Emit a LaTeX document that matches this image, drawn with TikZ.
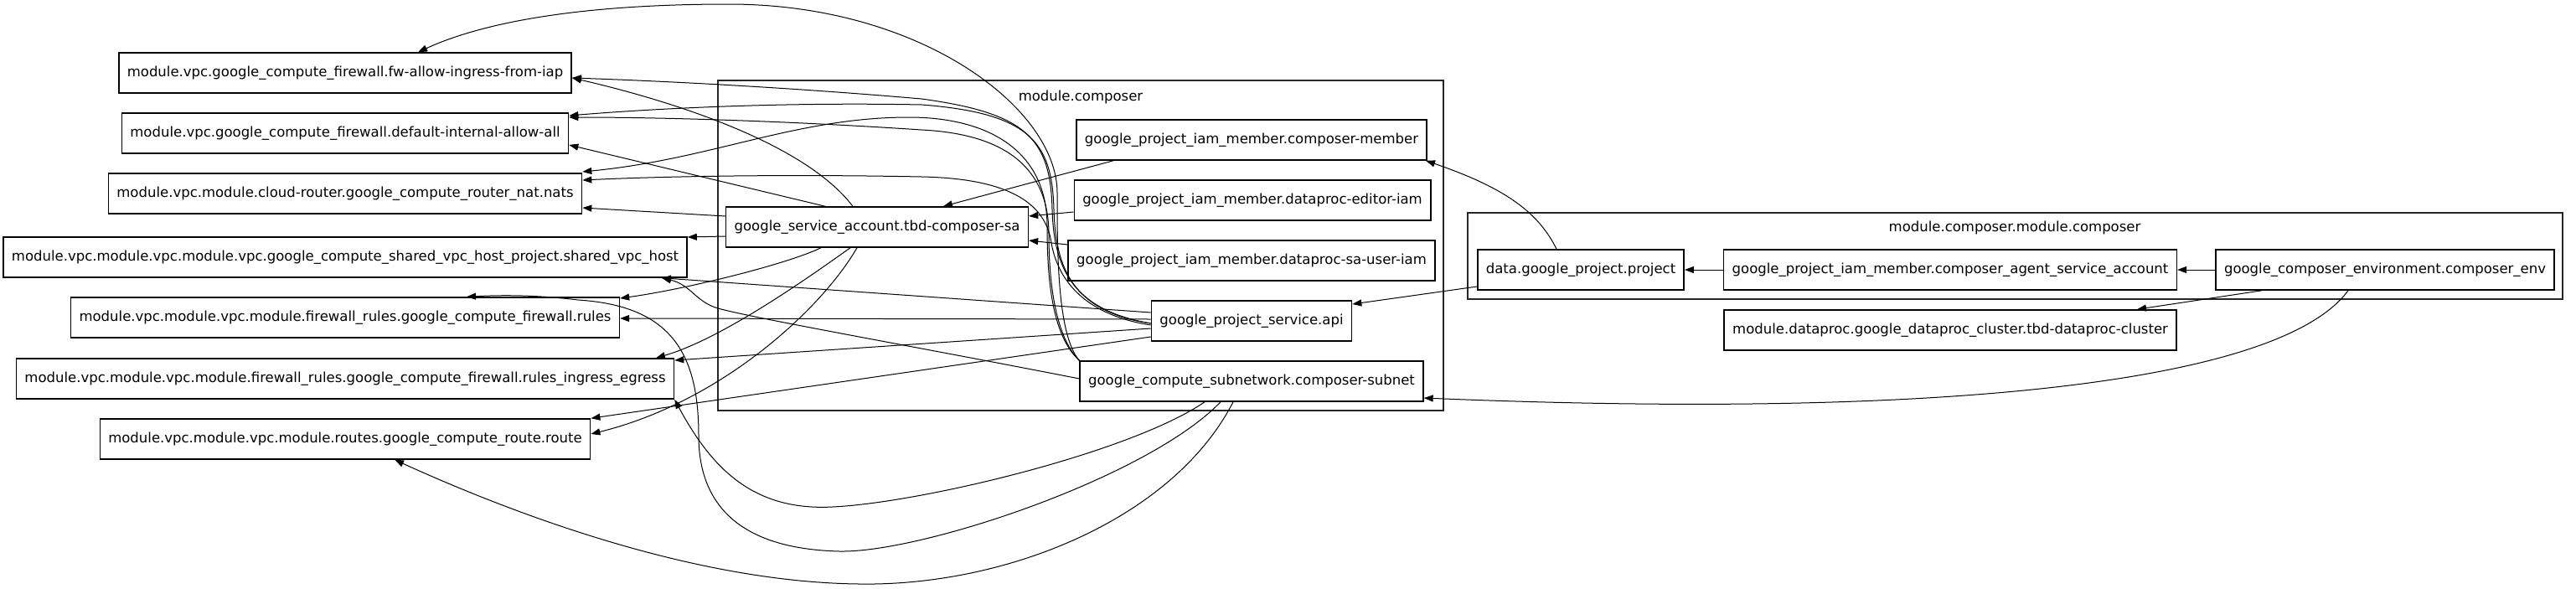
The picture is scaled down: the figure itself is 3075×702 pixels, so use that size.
\documentclass[tikz,border=0pt]{standalone}
\usepackage{fontspec}
\setmainfont{DejaVu Sans}
\usetikzlibrary{arrows.meta}
\tikzstyle{res}=[rectangle,draw=black,line width=0.75pt,inner xsep=5pt,
  inner ysep=0pt,minimum height=24pt]
\tikzstyle{cluster}=[draw=black!85,line width=0.75pt]
\tikzstyle{dep}=[-{Triangle[length=5.5pt,width=4pt]},line width=0.5pt]
\tikzstyle{none}=[]
\begin{document}
\begin{tikzpicture}[x=0.5pt, y=0.5pt, every node/.style={font=\fontsize{8.25}{10}\selectfont}]
    \useasboundingbox (0,0) rectangle (3075,-702);
    \draw [style=cluster] (857,-96) rectangle (1723,-490);
    \draw [style=cluster] (1752,-254) rectangle (3059,-357);
    \node [style=none] (17) at (1290,-116) {module.composer};
    \node [style=none] (18) at (2405,-272) {module.composer.module.composer};
    \node [style=res] (0) at (412,-87) {module.vpc.google\_compute\_firewall.fw-allow-ingress-from-iap};
    \node [style=res] (1) at (412,-159) {module.vpc.google\_compute\_firewall.default-internal-allow-all};
    \node [style=res] (2) at (412,-231) {module.vpc.module.cloud-router.google\_compute\_router\_nat.nats};
    \node [style=res] (3) at (412,-307) {module.vpc.module.vpc.module.vpc.google\_compute\_shared\_vpc\_host\_project.shared\_vpc\_host};
    \node [style=res] (4) at (412,-379) {module.vpc.module.vpc.module.firewall\_rules.google\_compute\_firewall.rules};
    \node [style=res] (5) at (412,-452) {module.vpc.module.vpc.module.firewall\_rules.google\_compute\_firewall.rules\_ingress\_egress};
    \node [style=res] (6) at (412,-524) {module.vpc.module.vpc.module.routes.google\_compute\_route.route};
    \node [style=res] (7) at (1047,-271) {google\_service\_account.tbd-composer-sa};
    \node [style=res] (8) at (1494,-167) {google\_project\_iam\_member.composer-member};
    \node [style=res] (9) at (1495,-239) {google\_project\_iam\_member.dataproc-editor-iam};
    \node [style=res] (10) at (1494,-311) {google\_project\_iam\_member.dataproc-sa-user-iam};
    \node [style=res] (11) at (1494,-383) {google\_project\_service.api};
    \node [style=res] (12) at (1494,-455) {google\_compute\_subnetwork.composer-subnet};
    \node [style=res] (13) at (1887,-322) {data.google\_project.project};
    \node [style=res] (14) at (2328,-322) {google\_project\_iam\_member.composer\_agent\_service\_account};
    \node [style=res] (15) at (2847,-322) {google\_composer\_environment.composer\_env};
    \node [style=res] (16) at (2328,-394) {module.dataproc.google\_dataproc\_cluster.tbd-dataproc-cluster};
    \draw [style=dep] (15.west) to (14.east);
    \draw [style=dep] (14.west) to (13.east);
    \draw [style=dep] (15.south -| 2700,0) to (16.north -| 2551,0);
    \draw [style=dep] (15.south -| 2803,0) .. controls (2720,-460) and (2300,-500) .. (12.east |- 0,-475);
    \draw [style=dep] (13.north -| 1858,0) .. controls (1835,-250) and (1790,-222) .. (8.south -| 1702,0);
    \draw [style=dep] (13.west |- 0,-342) to (11.east |- 0,-363);
    \draw [style=dep] (8.south -| 1329,0) to (7.north -| 1126,0);
    \draw [style=dep] (9.west |- 0,-253) to (7.east |- 0,-258);
    \draw [style=dep] (10.west |- 0,-292) to (7.east |- 0,-287);
    \draw [style=dep] (7.north -| 1018,0) .. controls (960,-170) and (800,-120) .. (0.east |- 0,-93);
    \draw [style=dep] (7.north -| 985,0) to (1.east |- 0,-173);
    \draw [style=dep] (7.west |- 0,-258) to (2.east |- 0,-248);
    \draw [style=dep] (7.west |- 0,-282) to (3.east |- 0,-283);
    \draw [style=dep] (7.south -| 980,0) .. controls (940,-315) and (820,-345) .. (4.east |- 0,-356);
    \draw [style=dep] (7.south -| 1015,0) .. controls (960,-335) and (860,-405) .. (5.north -| 783,0);
    \draw [style=dep] (7.south -| 1023,0) .. controls (980,-370) and (860,-480) .. (6.east |- 0,-518);
    \draw [style=dep] (11.west |- 0,-386) .. controls (1280,-370) and (1258,-320) .. (1256,-250) .. controls (1254,-165) and (1225,-135) .. (1100,-118) .. controls (950,-105) and (800,-97) .. (0.east |- 0,-93);
    \draw [style=dep] (11.west |- 0,-386) .. controls (1280,-372) and (1260,-320) .. (1258,-250) .. controls (1256,-170) and (1230,-135) .. (1100,-125) .. controls (950,-122) and (800,-128) .. (1.east |- 0,-138);
    \draw [style=dep] (11.west |- 0,-388) .. controls (1290,-375) and (1262,-330) .. (1255,-290) .. controls (1248,-240) and (1200,-213) .. (1100,-211) .. controls (950,-208) and (800,-210) .. (2.east |- 0,-215);
    \draw [style=dep] (11.west |- 0,-373) to (3.south -| 790,0);
    \draw [style=dep] (11.west |- 0,-381) to (4.east |- 0,-380);
    \draw [style=dep] (11.west |- 0,-392) to (5.east |- 0,-430);
    \draw [style=dep] (11.west |- 0,-402) to (6.north east);
    \draw [style=dep] (12.north west) .. controls (1262,-400) and (1262,-300) .. (1262,-230) .. controls (1262,-130) and (1100,-5) .. (870,-5) .. controls (700,-5) and (580,-25) .. (0.north -| 499,0);
    \draw [style=dep] (12.north west) .. controls (1255,-400) and (1250,-330) .. (1250,-270) .. controls (1250,-180) and (1180,-140) .. (1085,-140) .. controls (950,-140) and (850,-190) .. (2.east |- 0,-205);
    \draw [style=dep] (12.north west) .. controls (1258,-400) and (1252,-330) .. (1252,-280) .. controls (1252,-200) and (1200,-160) .. (1100,-155) .. controls (950,-145) and (800,-140) .. (1.east |- 0,-140);
    \draw [style=dep] (12.west |- 0,-452) .. controls (1100,-415) and (900,-380) .. (857,-368) .. controls (830,-360) and (825,-340) .. (3.south -| 790,0);
    \draw [style=dep] (12.south -| 1438,0) .. controls (1350,-540) and (1100,-600) .. (994,-605) .. controls (900,-610) and (850,-560) .. (5.south east);
    \draw [style=dep] (12.south -| 1457,0) .. controls (1370,-570) and (1100,-660) .. (1002,-658) .. controls (880,-655) and (834,-600) .. (834,-520) .. controls (834,-420) and (800,-365) .. (690,-358) .. controls (640,-352) and (600,-352) .. (4.north -| 557,0);
    \draw [style=dep] (12.south -| 1472,0) .. controls (1400,-620) and (1200,-700) .. (1025,-697) .. controls (850,-695) and (650,-630) .. (6.south -| 471,0);
\end{tikzpicture}
\end{document}
